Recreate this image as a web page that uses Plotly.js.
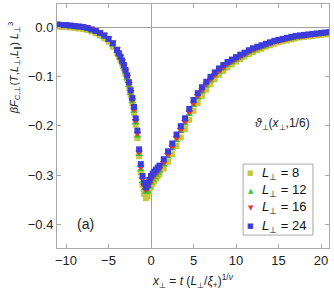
<!DOCTYPE html>
<html>
<head>
<meta charset="utf-8">
<script src="https://cdn.plot.ly/plotly-3.0.1.min.js"></script>
<style>html,body{margin:0;padding:0;background:#fff;}#chart{width:334px;height:291px;}</style>
</head>
<body>
<div id="chart"></div>
<script>
// x_perp values (shared sampling)
const xVals = [-11,-10.5,-10,-9.5,-9,-8.5,-8,-7.5,-7,-6.5,-6,-5.5,-5,-4.5,-4,
  -3.8,-3.6,-3.4,-3.2,-3,-2.8,-2.6,-2.4,-2.2,-2,-1.8,-1.6,-1.4,-1.2,-1,-0.8,-0.6,-0.4,-0.2,0,0.2,0.4,0.6,0.8,1,
  1.5,2,2.5,3,3.5,4,4.5,5,5.5,6,6.5,7,7.5,8,8.5,9,9.5,10,10.5,11,11.5,12,12.5,13,13.5,14,14.5,15,15.5,16,16.5,17,17.5,18,18.5,19,19.5,20,20.5,21];

const yL8 = [0.001,0.000,0.000,-0.001,-0.002,-0.003,-0.004,-0.006,-0.009,-0.013,-0.017,-0.023,-0.030,-0.040,-0.052,
  -0.059,-0.066,-0.074,-0.084,-0.095,-0.107,-0.121,-0.137,-0.154,-0.174,-0.198,-0.225,-0.262,-0.294,-0.320,-0.338,-0.347,-0.343,-0.334,-0.325,-0.318,-0.312,-0.307,-0.302,-0.298,
  -0.287,-0.273,-0.258,-0.241,-0.224,-0.207,-0.188,-0.170,-0.154,-0.140,-0.127,-0.116,-0.106,-0.097,-0.089,-0.082,-0.076,-0.070,-0.065,-0.060,-0.055,-0.051,-0.047,-0.044,-0.040,-0.037,-0.034,-0.031,-0.029,-0.027,-0.025,-0.023,-0.021,-0.020,-0.019,-0.018,-0.017,-0.016,-0.015,-0.014];

const yL12 = [0.003,0.002,0.002,0.001,0.000,-0.001,-0.002,-0.004,-0.007,-0.010,-0.014,-0.020,-0.027,-0.036,-0.049,
  -0.056,-0.063,-0.071,-0.081,-0.092,-0.104,-0.118,-0.134,-0.151,-0.170,-0.194,-0.221,-0.258,-0.289,-0.313,-0.328,-0.335,-0.333,-0.324,-0.316,-0.310,-0.305,-0.300,-0.296,-0.292,
  -0.279,-0.263,-0.247,-0.230,-0.212,-0.196,-0.177,-0.159,-0.144,-0.131,-0.119,-0.109,-0.099,-0.091,-0.084,-0.077,-0.072,-0.067,-0.062,-0.057,-0.052,-0.048,-0.044,-0.041,-0.038,-0.034,-0.031,-0.029,-0.027,-0.025,-0.023,-0.021,-0.020,-0.019,-0.017,-0.016,-0.015,-0.014,-0.013,-0.012];

const yL16 = [0.007,0.006,0.006,0.005,0.004,0.003,0.002,0.000,-0.003,-0.006,-0.010,-0.015,-0.022,-0.031,-0.045,
  -0.053,-0.060,-0.069,-0.078,-0.089,-0.101,-0.115,-0.131,-0.148,-0.167,-0.190,-0.216,-0.254,-0.284,-0.308,-0.322,-0.330,-0.327,-0.318,-0.310,-0.304,-0.300,-0.296,-0.292,-0.288,
  -0.275,-0.259,-0.243,-0.225,-0.208,-0.192,-0.173,-0.155,-0.140,-0.128,-0.116,-0.106,-0.097,-0.089,-0.082,-0.075,-0.070,-0.065,-0.060,-0.055,-0.050,-0.046,-0.043,-0.040,-0.036,-0.033,-0.030,-0.028,-0.026,-0.024,-0.022,-0.020,-0.019,-0.018,-0.016,-0.015,-0.014,-0.013,-0.012,-0.011];

const yL24 = [0.005,0.004,0.004,0.003,0.002,0.001,0.000,-0.002,-0.005,-0.008,-0.012,-0.017,-0.024,-0.033,-0.046,
  -0.053,-0.060,-0.068,-0.077,-0.087,-0.098,-0.112,-0.128,-0.144,-0.162,-0.185,-0.210,-0.248,-0.278,-0.302,-0.316,-0.325,-0.320,-0.310,-0.302,-0.297,-0.293,-0.289,-0.285,-0.281,
  -0.268,-0.252,-0.236,-0.218,-0.201,-0.185,-0.166,-0.148,-0.134,-0.122,-0.111,-0.101,-0.092,-0.084,-0.077,-0.071,-0.066,-0.061,-0.056,-0.052,-0.047,-0.043,-0.040,-0.037,-0.034,-0.031,-0.028,-0.026,-0.024,-0.022,-0.020,-0.018,-0.017,-0.016,-0.015,-0.014,-0.013,-0.012,-0.011,-0.010];

const seriesNames = ['<i>L</i><sub>⊥</sub> = 8','<i>L</i><sub>⊥</sub> = 12','<i>L</i><sub>⊥</sub> = 16','<i>L</i><sub>⊥</sub> = 24'];
const seriesY = [yL8, yL12, yL16, yL24];
const colors = ['#c8c83a','#3cc83c','#dc3c3c','#3c3cdc'];
const symbols = ['square','triangle-up','triangle-down','square'];
const legendGlyphs = ['■','▲','▼','■'];
const sizes = [6,7,7,6];

const traces = seriesY.map((y,i)=>({
  x: xVals, y: y, type:'scatter', mode:'markers', name: seriesNames[i], showlegend:false,
  marker:{color:colors[i], symbol:symbols[i], size:sizes[i], line:{width:0}}
}));

const FONT = 'Liberation Sans, Arial, sans-serif';
const frameColor = '#a8a8a8';

// legend layout (paper coords)
const legX0 = 0.684, legX1 = 0.941, legY0 = 0.053, legY1 = 0.344;
const legRowY = [0.307, 0.234, 0.164, 0.090];

const annotations = [
  {xref:'paper', yref:'paper', x:-0.155, y:0.74, text:'<i>βF</i><sub>C,⊥</sub>(<i>T</i>,<i>L</i><sub>⊥</sub>,<i>L</i><sub>∥</sub>) <i>L</i><sub>⊥</sub><sup>3</sup>',
    textangle:-90, showarrow:false, font:{family:FONT, size:11, color:'#222'}, xanchor:'center', yanchor:'middle'},
  {xref:'paper', yref:'paper', x:0.5, y:-0.09, yanchor:'top', xanchor:'center', showarrow:false,
    text:'<i>x</i><sub>⊥</sub> = <i>t</i> (<i>L</i><sub>⊥</sub>/<i>ξ</i><sub>+</sub>)<sup>1/<i>ν</i></sup>', font:{family:FONT, size:12, color:'#222'}},
  {xref:'paper', yref:'paper', x:0.9375, y:0.51, xanchor:'right', yanchor:'middle', showarrow:false,
    text:'<i>ϑ</i><sub>⊥</sub>(<i>x</i><sub>⊥</sub>,1/6)', font:{family:FONT, size:12, color:'#222'}},
  {xref:'paper', yref:'paper', x:0.065, y:0.1, xanchor:'left', yanchor:'middle', showarrow:false,
    text:'(a)', font:{family:FONT, size:14, color:'#222'}}
];
seriesNames.forEach((n,i)=>{
  annotations.push({xref:'paper', yref:'paper', x:0.713, y:legRowY[i], xanchor:'center', yanchor:'middle', showarrow:false,
    text:legendGlyphs[i], font:{family:'DejaVu Sans', size:7, color:colors[i]}});
  annotations.push({xref:'paper', yref:'paper', x:0.745, y:legRowY[i], xanchor:'left', yanchor:'middle', showarrow:false,
    text:n, font:{family:FONT, size:13, color:'#111'}});
});

const layout = {
  width:334, height:291,
  margin:{l:57, r:5, t:4, b:43},
  paper_bgcolor:'#fff', plot_bgcolor:'#fff',
  font:{family:FONT, size:13, color:'#222'},
  showlegend:false,
  xaxis:{range:[-11.06,20.94], tickvals:[-10,-5,0,5,10,15,20], ticks:'inside', ticklen:4, tickcolor:frameColor,
    showline:true, linecolor:frameColor, linewidth:1, mirror:'ticks', showgrid:false,
    zeroline:true, zerolinecolor:'#a0a0a0', zerolinewidth:1, tickfont:{size:13, color:'#222'}},
  yaxis:{range:[-0.448,0.0467], tickvals:[0,-0.1,-0.2,-0.3,-0.4], tickformat:'.1f', ticks:'inside', ticklen:4, tickcolor:frameColor,
    showline:true, linecolor:frameColor, linewidth:1, mirror:'ticks', showgrid:false,
    zeroline:true, zerolinecolor:'#a0a0a0', zerolinewidth:1, tickfont:{size:13, color:'#222'}},
  shapes:[{type:'rect', xref:'paper', yref:'paper', x0:legX0, x1:legX1, y0:legY0, y1:legY1,
    line:{color:frameColor, width:1}, fillcolor:'#fff', layer:'above'}],
  annotations: annotations
};

Plotly.newPlot('chart', traces, layout, {displayModeBar:false, staticPlot:true});
</script>
</body>
</html>
